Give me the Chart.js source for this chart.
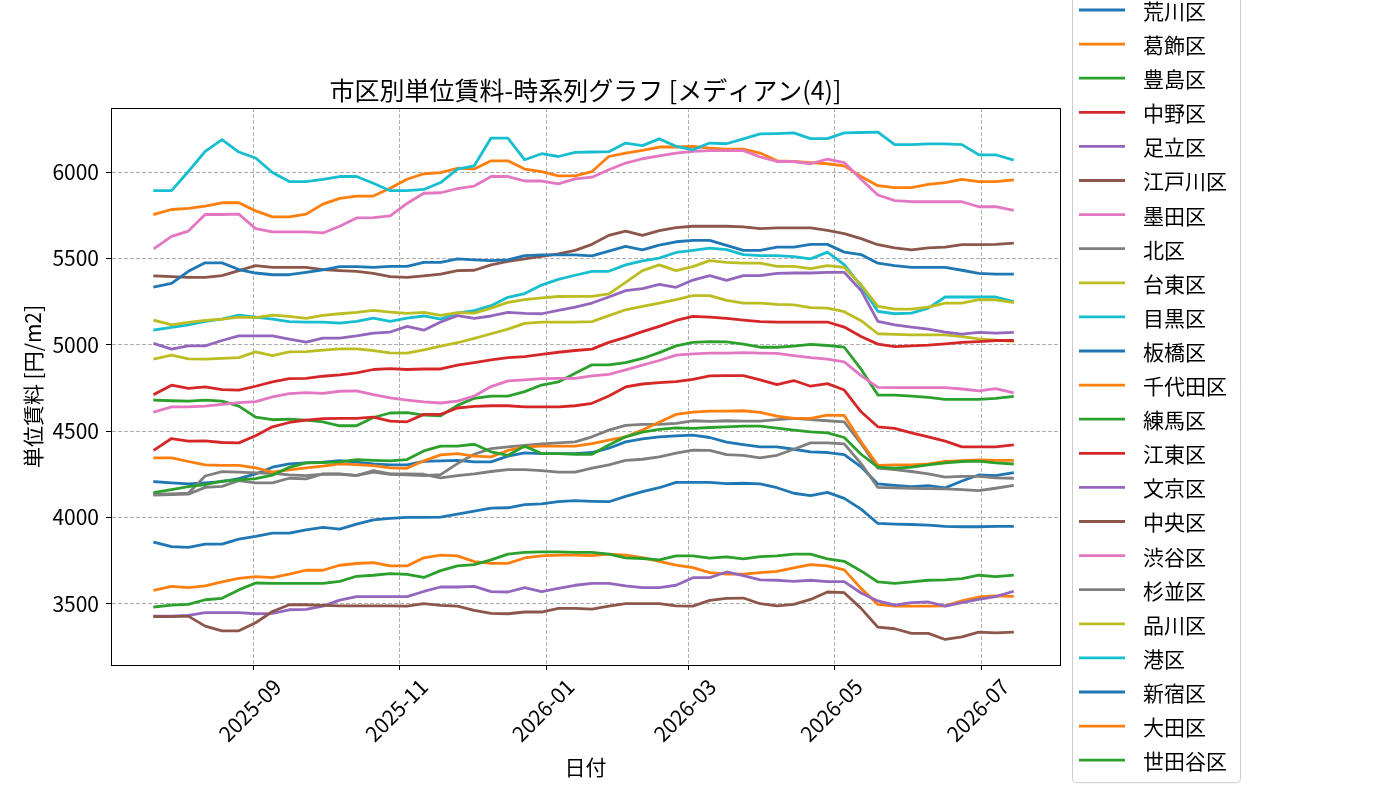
<!DOCTYPE html>
<html lang="ja">
<head>
<meta charset="utf-8">
<title>市区別単位賃料-時系列グラフ</title>
<script src="https://cdn.jsdelivr.net/npm/chart.js@4.4.1/dist/chart.umd.min.js"></script>
<style>
  html, body { margin: 0; padding: 0; background: #fff; }
  #wrap { width: 1400px; height: 800px; }
</style>
</head>
<body>
<div id="wrap"><canvas id="rentChart" width="1400" height="800"></canvas></div>
<script>
// weekly snapshots
const dates = [
  '2025-07-22', '2025-07-29', '2025-08-05', '2025-08-12', '2025-08-19', '2025-08-26',
  '2025-09-02', '2025-09-09', '2025-09-16', '2025-09-23', '2025-09-30',
  '2025-10-07', '2025-10-14', '2025-10-21', '2025-10-28',
  '2025-11-04', '2025-11-11', '2025-11-18', '2025-11-25',
  '2025-12-02', '2025-12-09', '2025-12-16', '2025-12-23', '2025-12-30',
  '2026-01-06', '2026-01-13', '2026-01-20', '2026-01-27',
  '2026-02-03', '2026-02-10', '2026-02-17', '2026-02-24',
  '2026-03-03', '2026-03-10', '2026-03-17', '2026-03-24', '2026-03-31',
  '2026-04-07', '2026-04-14', '2026-04-21', '2026-04-28',
  '2026-05-05', '2026-05-12', '2026-05-19', '2026-05-26',
  '2026-06-02', '2026-06-09', '2026-06-16', '2026-06-23', '2026-06-30',
  '2026-07-07', '2026-07-14'
];

const wards = ['荒川区', '葛飾区', '豊島区', '中野区', '足立区', '江戸川区', '墨田区', '北区',
  '台東区', '目黒区', '板橋区', '千代田区', '練馬区', '江東区', '文京区', '中央区',
  '渋谷区', '杉並区', '品川区', '港区', '新宿区', '大田区', '世田谷区'];

const arakawa = [4207, 4200, 4194, 4200, 4207, 4225, 4252, 4291, 4310, 4316, 4320, 4329, 4320, 4310, 4304, 4304, 4325,
  4328, 4330, 4322, 4322, 4355, 4374, 4370, 4370, 4370, 4376, 4401, 4438, 4455, 4467, 4473, 4477, 4463, 4436,
  4422, 4409, 4409, 4395, 4380, 4376, 4364, 4293, 4194, 4186, 4178, 4184, 4171, 4211, 4246, 4242, 4258];
const katsushika = [3579, 3601, 3593, 3603, 3626, 3647, 3657, 3651, 3671, 3694, 3694, 3723, 3733, 3738, 3719, 3719, 3766,
  3781, 3777, 3744, 3734, 3734, 3765, 3777, 3781, 3781, 3779, 3787, 3781, 3767, 3746, 3723, 3709, 3680, 3671,
  3671, 3680, 3688, 3707, 3727, 3719, 3696, 3589, 3496, 3486, 3486, 3486, 3488, 3516, 3539, 3545, 3543];
const toshima = [4680, 4676, 4674, 4680, 4674, 4645, 4581, 4566, 4570, 4564, 4554, 4531, 4531, 4579, 4605, 4607, 4593,
  4589, 4649, 4690, 4703, 4703, 4729, 4767, 4785, 4835, 4884, 4884, 4897, 4921, 4955, 4994, 5014, 5019, 5017,
  5004, 4986, 4986, 4992, 5002, 4996, 4986, 4859, 4709, 4709, 4703, 4696, 4684, 4684, 4684, 4690, 4700];
const nakano = [4393, 4457, 4442, 4444, 4434, 4432, 4473, 4525, 4550, 4564, 4572, 4574, 4574, 4581, 4558, 4554, 4597,
  4597, 4634, 4643, 4647, 4647, 4641, 4641, 4641, 4647, 4661, 4703, 4756, 4773, 4781, 4787, 4800, 4820, 4822,
  4822, 4797, 4769, 4793, 4760, 4775, 4738, 4612, 4525, 4516, 4490, 4467, 4442, 4409, 4409, 4409, 4419];
const adachi = [3428, 3428, 3432, 3448, 3448, 3448, 3442, 3444, 3465, 3467, 3486, 3521, 3541, 3541, 3541, 3541, 3571,
  3597, 3597, 3601, 3570, 3568, 3593, 3570, 3589, 3607, 3618, 3618, 3603, 3593, 3593, 3607, 3651, 3651, 3684,
  3663, 3638, 3636, 3630, 3636, 3628, 3628, 3562, 3516, 3492, 3506, 3510, 3486, 3506, 3525, 3541, 3570];
const edogawa = [3425, 3425, 3428, 3370, 3343, 3343, 3390, 3455, 3494, 3494, 3490, 3488, 3488, 3488, 3488, 3486, 3500,
  3490, 3486, 3461, 3444, 3442, 3452, 3452, 3473, 3473, 3469, 3486, 3500, 3500, 3500, 3488, 3486, 3519, 3531,
  3533, 3500, 3488, 3496, 3525, 3568, 3564, 3473, 3364, 3355, 3328, 3328, 3293, 3308, 3335, 3331, 3335];
const sumida = [4612, 4640, 4641, 4645, 4655, 4665, 4671, 4698, 4717, 4723, 4719, 4731, 4733, 4711, 4692, 4680, 4670,
  4663, 4674, 4703, 4758, 4791, 4797, 4804, 4806, 4806, 4820, 4829, 4855, 4882, 4909, 4940, 4948, 4952, 4952,
  4955, 4952, 4950, 4938, 4926, 4917, 4901, 4822, 4754, 4752, 4752, 4752, 4752, 4744, 4733, 4746, 4723];
const kita = [4135, 4137, 4140, 4240, 4265, 4262, 4258, 4255, 4246, 4242, 4250, 4250, 4244, 4262, 4250, 4246, 4242,
  4248, 4312, 4366, 4399, 4409, 4417, 4426, 4432, 4438, 4467, 4506, 4533, 4539, 4539, 4545, 4560, 4556, 4560,
  4558, 4558, 4566, 4574, 4566, 4560, 4554, 4428, 4285, 4277, 4266, 4252, 4233, 4238, 4238, 4229, 4227];
const taito = [4919, 4940, 4919, 4917, 4921, 4926, 4959, 4938, 4959, 4961, 4969, 4977, 4977, 4967, 4953, 4952, 4971,
  4992, 5012, 5037, 5064, 5091, 5124, 5132, 5132, 5132, 5134, 5169, 5203, 5223, 5242, 5262, 5285, 5285, 5257,
  5242, 5242, 5234, 5231, 5215, 5213, 5192, 5140, 5064, 5060, 5058, 5058, 5058, 5048, 5035, 5027, 5021];
const meguro = [5087, 5101, 5116, 5136, 5149, 5172, 5161, 5149, 5134, 5132, 5132, 5126, 5136, 5155, 5136, 5155, 5167,
  5149, 5184, 5198, 5227, 5275, 5297, 5346, 5379, 5403, 5426, 5426, 5463, 5486, 5502, 5535, 5547, 5560, 5552,
  5523, 5517, 5517, 5511, 5498, 5537, 5465, 5340, 5194, 5180, 5184, 5213, 5277, 5277, 5277, 5277, 5252];
const itabashi = [3855, 3831, 3826, 3845, 3845, 3874, 3890, 3909, 3909, 3928, 3942, 3932, 3961, 3986, 3994, 4000, 4000,
  4002, 4019, 4037, 4054, 4056, 4074, 4078, 4091, 4097, 4093, 4091, 4122, 4149, 4172, 4203, 4203, 4203, 4196,
  4198, 4194, 4172, 4140, 4126, 4145, 4110, 4048, 3965, 3961, 3959, 3955, 3948, 3946, 3946, 3948, 3948];
const chiyoda = [5757, 5784, 5790, 5803, 5823, 5823, 5776, 5741, 5741, 5757, 5815, 5848, 5862, 5862, 5907, 5959, 5991,
  5998, 6023, 6019, 6066, 6066, 6018, 6004, 5979, 5979, 6004, 6091, 6111, 6126, 6146, 6146, 6150, 6140, 6134,
  6134, 6111, 6066, 6062, 6056, 6049, 6037, 5975, 5922, 5911, 5911, 5930, 5940, 5959, 5946, 5946, 5955];
const nerima = [3481, 3492, 3496, 3523, 3531, 3580, 3620, 3618, 3618, 3618, 3618, 3630, 3659, 3665, 3674, 3670, 3652,
  3692, 3719, 3727, 3754, 3787, 3797, 3800, 3800, 3797, 3797, 3787, 3766, 3762, 3754, 3777, 3777, 3764, 3771,
  3760, 3773, 3777, 3787, 3787, 3760, 3746, 3690, 3626, 3618, 3626, 3636, 3638, 3645, 3665, 3657, 3665];
const koto = [4715, 4766, 4748, 4756, 4740, 4738, 4760, 4785, 4804, 4806, 4818, 4826, 4837, 4857, 4862, 4857, 4860,
  4860, 4882, 4897, 4913, 4926, 4932, 4944, 4957, 4967, 4975, 5014, 5043, 5076, 5107, 5141, 5165, 5161, 5153,
  5143, 5134, 5132, 5132, 5132, 5132, 5103, 5048, 5004, 4990, 4994, 4998, 5006, 5014, 5019, 5025, 5025];
const bunkyo = [5006, 4975, 4994, 4994, 5025, 5052, 5052, 5052, 5033, 5016, 5039, 5039, 5052, 5068, 5074, 5107, 5085,
  5132, 5169, 5153, 5167, 5188, 5182, 5180, 5200, 5219, 5242, 5277, 5314, 5325, 5350, 5333, 5375, 5401, 5373,
  5401, 5401, 5414, 5416, 5416, 5420, 5420, 5315, 5136, 5116, 5103, 5091, 5074, 5062, 5072, 5068, 5072];
const chuo = [5399, 5395, 5391, 5391, 5401, 5430, 5459, 5449, 5449, 5449, 5436, 5430, 5426, 5414, 5395, 5391, 5400,
  5410, 5430, 5432, 5463, 5484, 5498, 5512, 5527, 5547, 5582, 5634, 5659, 5634, 5661, 5679, 5687, 5687, 5687,
  5683, 5673, 5677, 5677, 5677, 5663, 5644, 5615, 5580, 5561, 5550, 5562, 5566, 5580, 5580, 5582, 5589];
const shibuya = [5560, 5628, 5659, 5755, 5755, 5757, 5673, 5654, 5654, 5654, 5648, 5687, 5735, 5737, 5747, 5819, 5878,
  5881, 5905, 5920, 5975, 5975, 5949, 5949, 5932, 5961, 5971, 6014, 6053, 6078, 6095, 6111, 6121, 6125, 6125,
  6125, 6088, 6062, 6062, 6049, 6076, 6056, 5959, 5868, 5835, 5829, 5829, 5829, 5829, 5800, 5800, 5780];
const suginami = [4130, 4132, 4135, 4174, 4180, 4213, 4200, 4200, 4227, 4223, 4252, 4252, 4242, 4271, 4252, 4252, 4250,
  4229, 4242, 4252, 4266, 4277, 4277, 4271, 4262, 4262, 4285, 4305, 4330, 4337, 4351, 4372, 4390, 4388, 4364,
  4359, 4345, 4360, 4395, 4432, 4432, 4426, 4312, 4174, 4171, 4169, 4167, 4165, 4161, 4155, 4169, 4184];
const shinagawa = [5141, 5116, 5130, 5141, 5149, 5161, 5157, 5172, 5165, 5153, 5171, 5180, 5188, 5200, 5190, 5182, 5188,
  5171, 5186, 5184, 5213, 5246, 5262, 5272, 5280, 5281, 5281, 5295, 5362, 5430, 5463, 5430, 5453, 5488, 5478,
  5473, 5473, 5455, 5455, 5441, 5459, 5449, 5348, 5223, 5207, 5207, 5219, 5242, 5242, 5262, 5260, 5246];
const minato = [5893, 5893, 6004, 6121, 6189, 6117, 6082, 5998, 5946, 5946, 5959, 5975, 5975, 5936, 5893, 5893, 5900,
  5940, 6018, 6037, 6198, 6198, 6072, 6107, 6091, 6115, 6117, 6119, 6169, 6154, 6193, 6150, 6130, 6169, 6165,
  6193, 6222, 6224, 6228, 6195, 6195, 6228, 6230, 6232, 6160, 6160, 6164, 6164, 6160, 6101, 6101, 6072];
const shinjuku = [5336, 5356, 5426, 5475, 5475, 5436, 5416, 5406, 5406, 5420, 5434, 5453, 5453, 5449, 5455, 5455, 5478,
  5478, 5498, 5492, 5488, 5492, 5517, 5521, 5521, 5521, 5515, 5543, 5570, 5550, 5578, 5597, 5605, 5605, 5576,
  5547, 5547, 5566, 5566, 5582, 5582, 5537, 5523, 5473, 5459, 5449, 5449, 5449, 5432, 5414, 5410, 5410];
const ota = [4345, 4345, 4324, 4304, 4302, 4302, 4287, 4262, 4275, 4287, 4297, 4310, 4306, 4300, 4287, 4285, 4328,
  4362, 4370, 4355, 4351, 4388, 4409, 4413, 4413, 4413, 4428, 4448, 4467, 4506, 4552, 4597, 4610, 4616, 4616,
  4618, 4609, 4587, 4574, 4574, 4593, 4591, 4438, 4302, 4304, 4304, 4310, 4324, 4329, 4333, 4331, 4331];
const setagaya = [4145, 4161, 4178, 4190, 4210, 4217, 4225, 4245, 4290, 4316, 4318, 4322, 4335, 4331, 4328, 4335, 4385,
  4413, 4413, 4424, 4380, 4360, 4413, 4370, 4370, 4366, 4366, 4419, 4467, 4494, 4510, 4519, 4516, 4521, 4525,
  4529, 4529, 4517, 4506, 4496, 4490, 4463, 4366, 4291, 4285, 4291, 4304, 4316, 4324, 4326, 4316, 4310];

const seriesValues = [arakawa, katsushika, toshima, nakano, adachi, edogawa, sumida, kita,
  taito, meguro, itabashi, chiyoda, nerima, koto, bunkyo, chuo,
  shibuya, suginami, shinagawa, minato, shinjuku, ota, setagaya];

const xTickDates = ['2025-09-01', '2025-11-01', '2026-01-01', '2026-03-01', '2026-05-01', '2026-07-01'];
const yTickValues = [3500, 4000, 4500, 5000, 5500, 6000];

const tab10 = ['#1f77b4', '#ff7f0e', '#2ca02c', '#d62728', '#9467bd',
  '#8c564b', '#e377c2', '#7f7f7f', '#bcbd22', '#17becf'];

const FONT = "'Noto Sans CJK JP', 'Noto Sans', sans-serif";
Chart.defaults.font.family = FONT;
Chart.defaults.color = '#000';

// days since epoch, so the x axis is a plain linear scale
function dayOf(s) {
  return Date.UTC(+s.slice(0, 4), +s.slice(5, 7) - 1, +s.slice(8, 10)) / 86400000;
}
function monthLabel(d) {
  const t = new Date(Math.round(d) * 86400000);
  return t.getUTCFullYear() + '-' + String(t.getUTCMonth() + 1).padStart(2, '0');
}

const xDays = dates.map(dayOf);

const datasets = wards.map((name, i) => ({
  label: name,
  data: seriesValues[i].map((v, k) => ({ x: xDays[k], y: v })),
  borderColor: tab10[i % 10],
  backgroundColor: tab10[i % 10],
  borderWidth: 2.8,
  borderJoinStyle: 'round',
  borderCapStyle: 'square',
  pointRadius: 0,
  pointHoverRadius: 0,
  tension: 0,
  fill: false,
  order: -i   // later series on top, like matplotlib
}));

// title, frame and the outside legend
const decorPlugin = {
  id: 'decor',
  afterDraw(chart) {
    const ctx = chart.ctx;
    const ca = chart.chartArea;
    ctx.save();
    ctx.setLineDash([]);
    ctx.strokeStyle = '#000';
    ctx.lineWidth = 1;
    ctx.strokeRect(Math.round(ca.left) + 0.5, Math.round(ca.top) + 0.5,
      Math.round(ca.right - ca.left), Math.round(ca.bottom - ca.top));

    ctx.fillStyle = '#000';
    ctx.font = '25px ' + FONT;
    ctx.textAlign = 'center';
    ctx.textBaseline = 'middle';
    ctx.fillText('市区別単位賃料-時系列グラフ [メディアン(4)]', (ca.left + ca.right) / 2, 90);

    // legend
    const ds = chart.data.datasets;
    const step = 34.1, firstY = 10;
    const boxL = 1072, boxR = 1240, boxT = firstY - 24, boxB = firstY + step * (ds.length - 1) + 22;
    ctx.fillStyle = 'rgba(255,255,255,0.8)';
    ctx.strokeStyle = '#cccccc';
    ctx.lineWidth = 1;
    ctx.beginPath();
    ctx.roundRect(boxL + 0.5, boxT + 0.5, boxR - boxL, boxB - boxT, 4);
    ctx.fill();
    ctx.stroke();
    ctx.font = '21px ' + FONT;
    ctx.textAlign = 'left';
    ds.forEach((d, i) => {
      const y = firstY + i * step;
      ctx.strokeStyle = d.borderColor;
      ctx.lineWidth = 2.8;
      ctx.beginPath();
      ctx.moveTo(1079, y);
      ctx.lineTo(1125, y);
      ctx.stroke();
      ctx.fillStyle = '#000';
      ctx.fillText(d.label, 1143, y + 1);
    });
    ctx.restore();
  }
};

const ctx = document.getElementById('rentChart').getContext('2d');
const rentChart = new Chart(ctx, {
  type: 'line',
  data: { datasets: datasets },
  options: {
    responsive: false,
    animation: false,
    parsing: false,
    layout: { padding: { left: 0, right: 340, top: 108, bottom: 0 } },
    plugins: {
      legend: { display: false },
      title: { display: false },
      tooltip: { enabled: false }
    },
    scales: {
      x: {
        type: 'linear',
        min: xDays[0] - 18.2,
        max: xDays[xDays.length - 1] + 19.8,
        afterBuildTicks: (scale) => {
          scale.ticks = xTickDates.map(s => ({ value: dayOf(s) }));
        },
        afterFit: (scale) => { scale.height = 135; },
        ticks: {
          autoSkip: false,
          minRotation: 45,
          maxRotation: 45,
          labelOffset: 24,
          padding: 4,
          font: { size: 21 },
          color: '#000',
          callback: (v) => monthLabel(v)
        },
        grid: {
          color: '#b0b0b0',
          lineWidth: 1,
          drawTicks: true,
          tickLength: 5,
          tickColor: '#000',
          tickWidth: 1,
          tickBorderDash: []
        },
        border: { display: true, color: '#000', width: 1, dash: [4, 2] },
        title: {
          display: true,
          text: '日付',
          font: { size: 21 },
          color: '#000',
          padding: { top: 0, bottom: 20 }
        }
      },
      y: {
        type: 'linear',
        min: 3145,
        max: 6372,
        afterBuildTicks: (scale) => {
          scale.ticks = yTickValues.map(v => ({ value: v }));
        },
        afterFit: (scale) => { scale.width = 111; },
        ticks: {
          padding: 7,
          font: { size: 21 },
          color: '#000',
          callback: (v) => String(v)
        },
        grid: {
          color: '#b0b0b0',
          lineWidth: 1,
          drawTicks: true,
          tickLength: 5,
          tickColor: '#000',
          tickWidth: 1,
          tickBorderDash: []
        },
        border: { display: true, color: '#000', width: 1, dash: [4, 2] },
        title: {
          display: true,
          text: '単位賃料 [円/m2]',
          font: { size: 21 },
          color: '#000',
          padding: { top: 20, bottom: 0 }
        }
      }
    }
  },
  plugins: [decorPlugin]
});
</script>
</body>
</html>
